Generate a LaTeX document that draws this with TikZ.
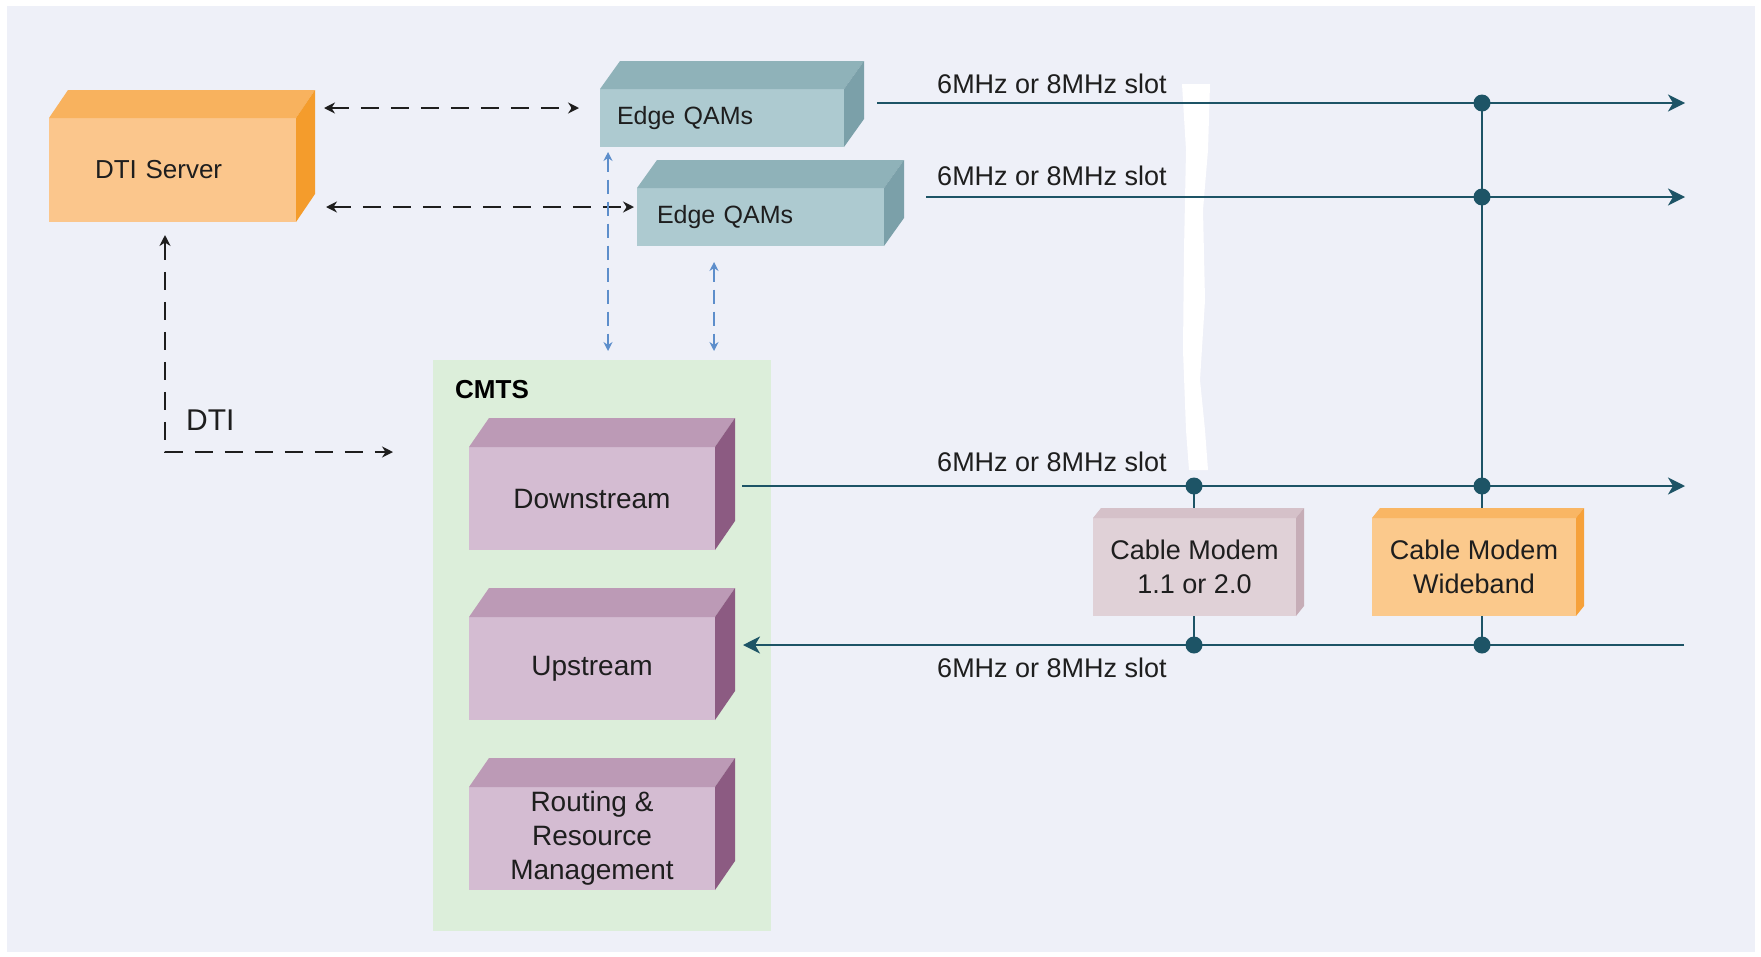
\documentclass[tikz,border=0pt]{standalone}
\usepackage{fontspec}
\setmainfont{Liberation Sans}
\usetikzlibrary{arrows.meta,calc}
\pgfdeclarelayer{back}\pgfdeclarelayer{mid}\pgfsetlayers{back,mid,main}
\definecolor{bgc}{HTML}{EEF0F8}
\definecolor{tealc}{HTML}{1D5466}
\definecolor{bluec}{HTML}{5D8ECB}
\definecolor{txt}{HTML}{1E1E1E}
\definecolor{dtif}{HTML}{FBC68C}
\definecolor{dtit}{HTML}{F8B25E}
\definecolor{dtis}{HTML}{F49C2C}
\definecolor{eqf}{HTML}{ADCAD0}
\definecolor{eqt}{HTML}{8FB2B9}
\definecolor{eqs}{HTML}{7BA0A9}
\definecolor{cmf}{HTML}{D4BCD2}
\definecolor{cmt}{HTML}{BC9AB6}
\definecolor{cms}{HTML}{8C5B82}
\definecolor{grn}{HTML}{DCEEDA}
\definecolor{cmaf}{HTML}{E0D1D7}
\definecolor{cmat}{HTML}{D5C1C9}
\definecolor{cmas}{HTML}{C6ADB7}
\definecolor{cmwf}{HTML}{FBC98C}
\definecolor{cmwt}{HTML}{F9B664}
\definecolor{cmws}{HTML}{F6A13A}
\newcommand\ftSlot{\fontsize{27}{32}\selectfont}
\newcommand\ftEdge{\fontsize{25}{30}\selectfont}
\newcommand\ftDti{\fontsize{26}{31}\selectfont}
\newcommand\ftCmts{\fontsize{26}{31}\selectfont\bfseries}
\newcommand\ftBig{\fontsize{30}{36}\selectfont}
\newcommand\ftPurple{\fontsize{28}{34}\selectfont}
\newcommand\ftModem{\fontsize{27}{34}\selectfont}
\newcommand\cubefaces[5]{%
  \fill[#2] (#1.north west) -- ++(#4,-#5) -- ($(#1.north east)+(#4,-#5)$) -- (#1.north east) -- cycle;
  \fill[#3] (#1.north east) -- ++(#4,-#5) -- ($(#1.south east)+(#4,-#5)$) -- (#1.south east) -- cycle;}
\begin{document}
\begin{tikzpicture}[x=1pt,y=-1pt,
  cube/.style={inner ysep=0pt, outer sep=0pt, text=txt},
  slotlbl/.style={font=\ftSlot, inner sep=0pt, anchor=base, text=txt},
  tline/.style={draw=tealc, line width=2.4pt},
  tarrow/.style={tline, -{Stealth[length=17pt,width=17pt,inset=5pt]}},
  dasharrow/.style={draw=txt, line width=2pt, dash pattern=on 18pt off 12pt,
     {Stealth[length=11pt,width=11pt]}-{Stealth[length=11pt,width=11pt]}},
  bluearrow/.style={draw=bluec, line width=1.8pt, dash pattern=on 14pt off 8pt,
     {Stealth[length=9pt,width=9pt]}-{Stealth[length=9pt,width=9pt]}},
  dot/.style={fill=tealc}
]
\useasboundingbox (0,0) rectangle (1761,956);
\begin{pgfonlayer}{back}
  \fill[bgc] (7,6) rectangle (1755,952);
  \node[fill=grn, minimum width=338pt, minimum height=571pt, inner sep=0pt, outer sep=0pt] (cmts) at (602,645.5) {};
  \fill[white] (1182,84) -- (1210,84) -- (1208,150) -- (1203,210) -- (1205,300) -- (1200,380)
     -- (1205,430) -- (1208,470) -- (1189,470) -- (1186,430) -- (1183,350) -- (1184,250) -- (1186,150) -- cycle;
\end{pgfonlayer}

% boxes
\node[cube, fill=dtif, minimum width=247pt, minimum height=104pt, text width=155pt, inner xsep=46pt, align=left, font=\ftDti] (dti) at (172.5,170) {DTI Server};
\cubefaces{dti}{dtit}{dtis}{19}{28}
\node[cube, fill=eqf, minimum width=244pt, minimum height=58pt, text width=210pt, inner xsep=17pt, align=left, font=\ftEdge] (eq1) at (722,118) {Edge QAMs};
\cubefaces{eq1}{eqt}{eqs}{20}{28}
\node[cube, fill=eqf, minimum width=247pt, minimum height=58pt, text width=207pt, inner xsep=20pt, align=left, font=\ftEdge] (eq2) at (760.5,217) {Edge QAMs};
\cubefaces{eq2}{eqt}{eqs}{20}{28}

\node[anchor=base west, inner sep=0pt, font=\ftCmts, text=black] (cmtslbl) at (455,398) {CMTS};
\node[cube, fill=cmf, minimum width=246pt, minimum height=103pt, inner xsep=0pt, align=center, font=\ftPurple] (ds) at (592,498.5) {Downstream};
\cubefaces{ds}{cmt}{cms}{20}{29}
\node[cube, fill=cmf, minimum width=246pt, minimum height=103pt, inner xsep=0pt, align=center, font=\ftPurple] (us) at (592,668.5) {Upstream};
\cubefaces{us}{cmt}{cms}{20}{29}
\node[cube, fill=cmf, minimum width=246pt, minimum height=103pt, inner xsep=0pt, align=center, font=\ftPurple] (rr) at (592,838.5) {Routing \&\\Resource\\Management};
\cubefaces{rr}{cmt}{cms}{20}{29}

\node[cube, fill=cmaf, minimum width=203pt, minimum height=98pt, inner xsep=0pt, align=center, font=\ftModem] (cm1) at (1194.5,567) {Cable Modem\\1.1 or 2.0};
\cubefaces{cm1}{cmat}{cmas}{8}{10}
\node[cube, fill=cmwf, minimum width=204pt, minimum height=98pt, inner xsep=0pt, align=center, font=\ftModem] (cmw) at (1474,567) {Cable Modem\\Wideband};
\cubefaces{cmw}{cmwt}{cmws}{8}{10}

\node[anchor=base west, inner sep=0pt, font=\ftBig, text=txt] (dtilbl) at (186,430) {DTI};

% slot labels
\node[slotlbl] (s1) at (1052,93) {6MHz or 8MHz slot};
\node[slotlbl] (s2) at (1052,185) {6MHz or 8MHz slot};
\node[slotlbl] (s3) at (1052,471) {6MHz or 8MHz slot};
\node[slotlbl] (s4) at (1052,677) {6MHz or 8MHz slot};

% junctions and ends
\coordinate (e1) at (1685,103);
\coordinate (e2) at (1685,197);
\coordinate (e3) at (1685,486);
\coordinate (e4) at (1684,645);
\coordinate (j1) at (1482,103);
\coordinate (j2) at (1482,197);
\coordinate (j3) at (1482,486);
\coordinate (j6) at (1482,645);
\coordinate (j4) at (1194,486);
\coordinate (j5) at (1194,645);

\begin{pgfonlayer}{mid}
  \draw[tarrow] ($(eq1.east)+(33,-15)$) -- (e1);
  \draw[tarrow] ($(eq2.east)+(42,-20)$) -- (e2);
  \draw[tarrow] ($(ds.east)+(27,-12.5)$) -- (e3);
  \draw[tarrow] (e4) -- ($(us.east)+(28,-23.5)$);
  \draw[tline] (j1) -- (j2) -- (j3) -- (j3 |- cmw.north);
  \draw[tline] (j6 |- cmw.south) -- (j6);
  \draw[tline] (j4) -- (j4 |- cm1.north);
  \draw[tline] (j5 |- cm1.south) -- (j5);
  \draw[dasharrow] ($(dti.north east)+(28,-10)$) -- ($(eq1.west)+(-21,-10)$);
  \draw[dasharrow] ($(dti.south east)+(30,-15)$) -- ($(eq2.west)+(-3,-10)$);
  \draw[dasharrow] ($(dti.south west)+(116,13)$) |- ($(cmts.north west)+(-40,92)$);
  \draw[bluearrow] ($(eq1.south west)+(8,5)$) -- ($(cmts.north west)+(175,-9)$);
  \draw[bluearrow] ($(eq2.south west)+(77,16)$) -- ($(cmts.north west)+(281,-9)$);
\end{pgfonlayer}

\foreach \j in {j1,j2,j3,j4,j5,j6} \fill[dot] (\j) circle[radius=8.5pt];
\end{tikzpicture}
\end{document}
